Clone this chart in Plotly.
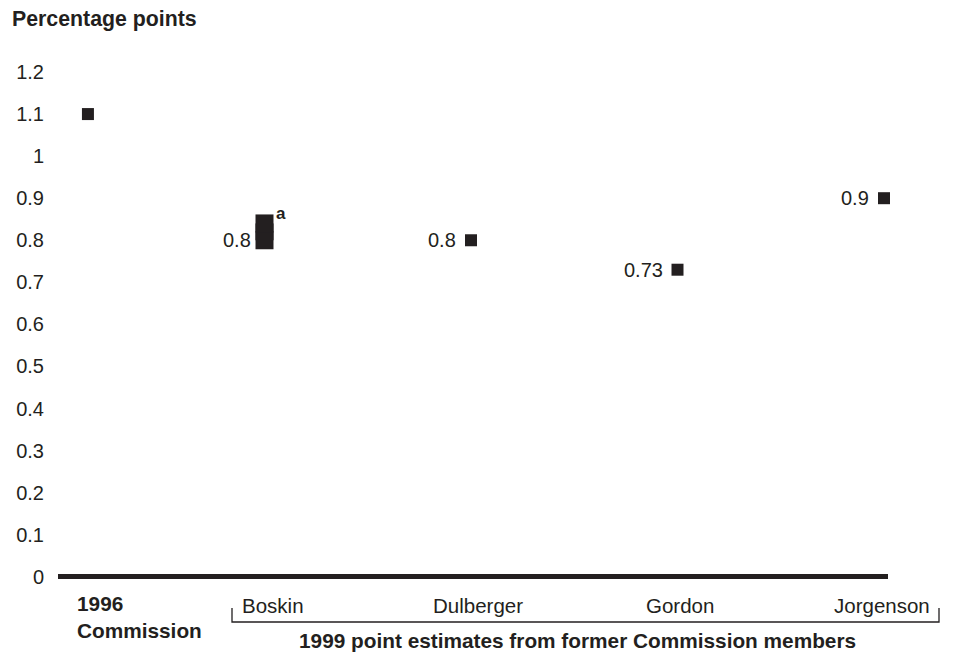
import plotly.graph_objects as go

# ---- data ----
categories = ["1996<br>Commission", "Boskin", "Dulberger", "Gordon", "Jorgenson"]
point_values = [1.1, 0.8, 0.8, 0.73, 0.9]
value_labels = ["", "0.8", "0.8", "0.73", "0.9"]
boskin_range = [0.8, 0.84]
y_ticks = [0, 0.1, 0.2, 0.3, 0.4, 0.5, 0.6, 0.7, 0.8, 0.9, 1, 1.1, 1.2]
group_label = "1999 point estimates from former Commission members"
y_title = "Percentage points"

# ---- layout helpers ----
x_pos = [0.145, 1, 2, 3, 4]
INK = "#231f20"
FONT = "Liberation Sans, Arial, Helvetica, sans-serif"
OFF = 8                      # page body margin
W, H = 953 - OFF, 656 - OFF
PLOT_L, PLOT_R, PLOT_T, PLOT_B = 58, 888, 72, 577   # target screen pixels
L, T = PLOT_L - OFF, PLOT_T - OFF
R = W - (PLOT_R - OFF)
B = H - (PLOT_B - OFF)
UNIT = 206.5                 # pixels per x unit
plot_h = PLOT_B - PLOT_T
plot_w = PLOT_R - PLOT_L

def py(pix):
    """screen pixel y -> paper y"""
    return (PLOT_B - pix) / plot_h

def pxp(pix):
    """screen pixel x -> paper x"""
    return (pix - PLOT_L) / plot_w

def pxd(pix):
    """screen pixel x -> data x"""
    return (pix - PLOT_L) / UNIT

fig = go.Figure()

# Boskin range bar
fig.add_trace(go.Scatter(
    x=[x_pos[1], x_pos[1]], y=boskin_range, mode="lines+markers",
    line=dict(color=INK, width=18),
    marker=dict(symbol="square", size=18, color=INK),
    cliponaxis=False, showlegend=False, hoverinfo="skip"))

# point estimates
idx = [0, 2, 3, 4]
fig.add_trace(go.Scatter(
    x=[x_pos[i] for i in idx], y=[point_values[i] for i in idx],
    mode="markers",
    marker=dict(symbol="square", size=12, color=INK),
    cliponaxis=False, showlegend=False))

annotations = []
# value labels
for i in range(len(point_values)):
    if not value_labels[i]:
        continue
    annotations.append(dict(x=x_pos[i], y=point_values[i], xref="x", yref="y",
                            xanchor="right", yanchor="middle", text=value_labels[i],
                            xshift=-12 if i == 1 else -13, showarrow=False,
                            font=dict(family=FONT, size=20, color=INK)))
# superscript a
annotations.append(dict(x=x_pos[1], y=boskin_range[1], xref="x", yref="y",
                        text="<b>a</b>", showarrow=False, xshift=16, yshift=10,
                        font=dict(family=FONT, size=17, color=INK)))
# y title
annotations.append(dict(x=pxp(10), y=py(19), xref="paper", yref="paper",
                        xanchor="left", yanchor="middle", text="<b>%s</b>" % y_title,
                        showarrow=False, font=dict(family=FONT, size=21.3, color=INK)))
# category labels
annotations.append(dict(x=pxd(75), y=py(617), xref="x", yref="paper",
                        xanchor="left", yanchor="middle", align="left",
                        text="<b>%s</b>" % categories[0],
                        showarrow=False, font=dict(family=FONT, size=20.8, color=INK)))
annotations.append(dict(x=pxd(240), y=py(605), xref="x", yref="paper",
                        xanchor="left", yanchor="middle", text=categories[1],
                        showarrow=False, font=dict(family=FONT, size=20.5, color=INK)))
for i, cx in zip([2, 3, 4], [478, 680, 882]):
    annotations.append(dict(x=pxd(cx), y=py(605), xref="x", yref="paper",
                            xanchor="center", yanchor="middle", text=categories[i],
                            showarrow=False, font=dict(family=FONT, size=20.5, color=INK)))
annotations.append(dict(x=pxd(577), y=py(640), xref="x", yref="paper",
                        xanchor="center", yanchor="middle", text="<b>%s</b>" % group_label,
                        showarrow=False, font=dict(family=FONT, size=20.8, color=INK)))

# bracket
bx0, bx1 = pxp(232), pxp(939)
shapes = [dict(type="path", xref="paper", yref="paper",
               path="M %f %f L %f %f L %f %f L %f %f" % (bx0, py(608), bx0, py(622),
                                                         bx1, py(622), bx1, py(608)),
               line=dict(color=INK, width=1.3))]

fig.update_layout(
    width=W, height=H,
    margin=dict(l=L, r=R, t=T, b=B),
    paper_bgcolor="white", plot_bgcolor="white",
    showlegend=False,
    annotations=annotations, shapes=shapes,
    xaxis=dict(range=[0, plot_w / UNIT], showgrid=False, showticklabels=False,
               zeroline=False, showline=False, fixedrange=True, automargin=False),
    yaxis=dict(range=[-0.0005, 1.2], tickvals=y_ticks, showgrid=False,
               zeroline=True, zerolinecolor=INK, zerolinewidth=5,
               showline=False, ticks="", ticklabelstandoff=13, automargin=False,
               tickfont=dict(family=FONT, size=20, color=INK)),
)

fig.write_html("out.html")
